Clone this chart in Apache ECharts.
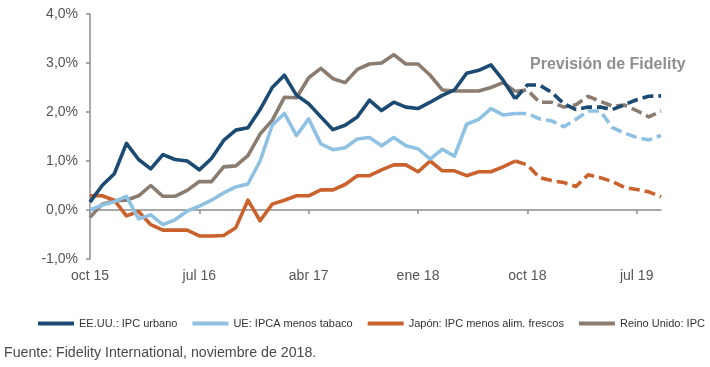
<!DOCTYPE html>
<html>
<head>
<meta charset="utf-8">
<script src="https://cdn.jsdelivr.net/npm/echarts@6/dist/echarts.min.js"></script>
<style>
  html, body { margin: 0; padding: 0; background: #ffffff; }
  #chart { width: 710px; height: 367px; }
</style>
</head>
<body>
<div id="chart"></div>
<script>
// Months, oct 15 .. sep 19
const categories = [
  'oct 15','nov 15','dic 15','ene 16','feb 16','mar 16','abr 16','may 16','jun 16','jul 16','ago 16','sep 16',
  'oct 16','nov 16','dic 16','ene 17','feb 17','mar 17','abr 17','may 17','jun 17','jul 17','ago 17','sep 17',
  'oct 17','nov 17','dic 17','ene 18','feb 18','mar 18','abr 18','may 18','jun 18','jul 18','ago 18','sep 18',
  'oct 18','nov 18','dic 18','ene 19','feb 19','mar 19','abr 19','may 19','jun 19','jul 19','ago 19','sep 19'
];

const seriesNames = ['EE.UU.: IPC urbano', 'UE: IPCA menos tabaco', 'Japón: IPC menos alim. frescos', 'Reino Unido: IPC'];

// Actual data: oct 15 .. sep 18 (36 values)
const usActual = [0.16,0.5,0.74,1.36,1.03,0.84,1.13,1.03,1.0,0.82,1.05,1.42,1.63,1.68,2.05,2.5,2.75,2.34,2.17,1.9,1.64,1.73,1.9,2.24,2.03,2.2,2.1,2.07,2.2,2.34,2.45,2.79,2.85,2.96,2.65,2.27];
const euActual = [0.0,0.1,0.17,0.28,-0.18,-0.1,-0.3,-0.2,-0.02,0.08,0.2,0.35,0.47,0.53,1.0,1.73,1.97,1.52,1.86,1.35,1.23,1.27,1.45,1.48,1.31,1.48,1.31,1.25,1.04,1.24,1.1,1.75,1.85,2.07,1.94,1.97];
const jpActual = [0.29,0.29,0.2,-0.12,-0.03,-0.3,-0.41,-0.41,-0.41,-0.53,-0.53,-0.52,-0.36,0.2,-0.22,0.12,0.2,0.29,0.29,0.41,0.41,0.52,0.7,0.7,0.82,0.92,0.92,0.78,1.0,0.8,0.8,0.7,0.78,0.78,0.88,1.0];
const ukActual = [-0.15,0.12,0.19,0.2,0.29,0.5,0.28,0.28,0.4,0.58,0.58,0.88,0.9,1.11,1.55,1.83,2.3,2.29,2.7,2.89,2.68,2.6,2.87,2.98,3.0,3.17,2.98,2.98,2.75,2.45,2.43,2.43,2.43,2.5,2.6,2.42];

// Fidelity forecast: sep 18 .. sep 19 (13 values, starting at the last actual month)
const forecastStart = 35;
const usForecast = [2.27,2.55,2.55,2.4,2.17,2.05,2.1,2.1,2.05,2.15,2.25,2.32,2.33];
const euForecast = [1.97,1.97,1.86,1.82,1.7,1.85,2.02,2.02,1.68,1.57,1.48,1.43,1.52];
const jpForecast = [1.0,0.92,0.66,0.6,0.56,0.48,0.72,0.66,0.58,0.46,0.42,0.37,0.27];
const ukForecast = [2.42,2.45,2.2,2.2,2.1,2.15,2.32,2.22,2.12,2.14,2.03,1.9,2.02];

const yTicks = { min: -1, max: 4, interval: 1 };

const colors = ['#1b4a72', '#8fc1e3', '#c9622c', '#8b7c71'];

const actuals = [usActual, euActual, jpActual, ukActual];
const forecasts = [usForecast, euForecast, jpForecast, ukForecast];

function pad(arr) {
  return new Array(forecastStart).fill(null).concat(arr);
}

const series = [];
seriesNames.forEach((name, k) => {
  series.push({
    name: name,
    type: 'line',
    data: actuals[k],
    symbol: 'none',
    showSymbol: false,
    color: colors[k],
    lineStyle: { width: 3.6, color: colors[k], join: 'round' },
    z: 10 - k
  });
});
seriesNames.forEach((name, k) => {
  series.push({
    name: name,
    type: 'line',
    data: pad(forecasts[k]),
    symbol: 'none',
    showSymbol: false,
    color: colors[k],
    lineStyle: { width: 3.6, color: colors[k], type: [11, 5], cap: 'butt', join: 'round' },
    z: 10 - k
  });
});

const chart = echarts.init(document.getElementById('chart'), null, { renderer: 'canvas' });
chart.setOption({
  animation: false,
  backgroundColor: '#ffffff',
  title: [
    {
      text: 'Previsión de Fidelity',
      left: 530, top: 57, padding: 0,
      textStyle: { fontFamily: 'Liberation Sans, Arial, sans-serif', fontSize: 16, fontWeight: 'bold', color: '#8f8f8f' }
    },
    {
      text: 'Fuente: Fidelity International, noviembre de 2018.',
      left: 4, top: 346, padding: 0,
      textStyle: { fontFamily: 'Liberation Sans, Arial, sans-serif', fontSize: 14.2, fontWeight: 'normal', color: '#4a4a4a' }
    }
  ],
  legend: {
    data: seriesNames.map((n, k) => ({ name: n, icon: 'rect', itemStyle: { color: colors[k] } })),
    left: 38, top: 318, width: 672, padding: 0,
    itemWidth: 36, itemHeight: 4, itemGap: 15,
    selectedMode: false,
    textStyle: { fontFamily: 'Liberation Sans, Arial, sans-serif', fontSize: 11, color: '#333333' }
  },
  grid: { left: 90, right: 49, top: 14, bottom: 108, containLabel: false },
  xAxis: {
    type: 'category',
    data: categories,
    boundaryGap: false,
    axisLine: { onZero: true, lineStyle: { color: '#8c8c8c', width: 1.5 } },
    axisTick: { show: true, interval: 8, length: 4, lineStyle: { color: '#8c8c8c', width: 1.5 } },
    axisLabel: { interval: 8, margin: 10, fontFamily: 'Liberation Sans, Arial, sans-serif', fontSize: 14, color: '#555555' },
    splitLine: { show: false }
  },
  yAxis: {
    type: 'value',
    min: yTicks.min, max: yTicks.max, interval: yTicks.interval,
    axisLine: { show: true, lineStyle: { color: '#8c8c8c', width: 1.5 } },
    axisTick: { show: true, length: 4, lineStyle: { color: '#8c8c8c', width: 1.5 } },
    axisLabel: {
      margin: 12,
      fontFamily: 'Liberation Sans, Arial, sans-serif', fontSize: 14, color: '#555555',
      formatter: v => v.toFixed(1).replace('.', ',') + '%'
    },
    splitLine: { show: false }
  },
  series: series
});
</script>
</body>
</html>
